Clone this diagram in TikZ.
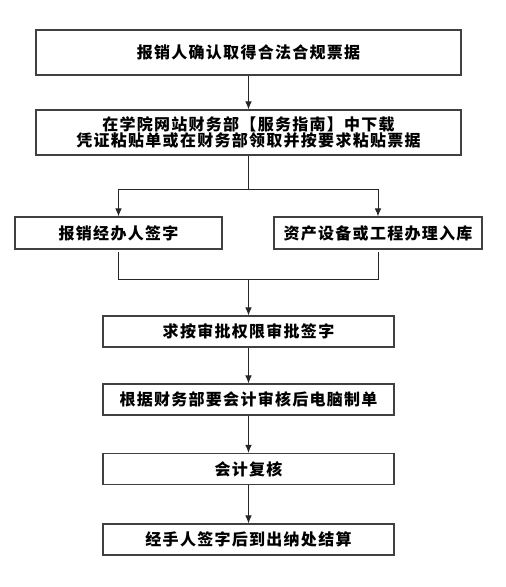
\documentclass[tikz,border=0pt]{standalone}
\usepackage{fontspec}
\usepackage{tikz}
\usetikzlibrary{arrows.meta}
\newfontfamily\cjk[LetterSpace=8]{Noto Sans CJK SC}

\begin{document}
\begin{tikzpicture}[x=1pt, y=-1pt,
  stepbox/.style={draw=black!75, line width=1.1pt, inner sep=0pt, align=center,
    font=\cjk\bfseries\fontsize{16pt}{15.5pt}\selectfont},
  flow/.style={-{Latex[length=8pt, width=6.5pt]}, line width=0.9pt, black!85}]

\useasboundingbox (0,0) rectangle (506,587);

\node[stepbox, minimum width=425pt, minimum height=45pt] (receipt) at (248.5, 52.5) {报销人确认取得合法合规票据};
\node[stepbox, minimum width=425pt, minimum height=45pt] (paste) at (248.5, 132.5) {在学院网站财务部【服务指南】中下载\\凭证粘贴单或在财务部领取并按要求粘贴票据};
\node[stepbox, minimum width=207pt, minimum height=32pt] (handler) at (118.5, 233) {报销经办人签字};
\node[stepbox, minimum width=208pt, minimum height=32pt] (stock) at (378, 233) {资产设备或工程办理入库};
\node[stepbox, minimum width=291pt, minimum height=31pt] (approve) at (248.5, 331.5) {求按审批权限审批签字};
\node[stepbox, minimum width=291pt, minimum height=31pt] (voucher) at (248.5, 399.5) {根据财务部要会计审核后电脑制单};
\node[stepbox, minimum width=291pt, minimum height=31pt] (review) at (248.5, 469) {会计复核};
\node[stepbox, minimum width=291pt, minimum height=31pt] (cashier) at (248.5, 539.5) {经手人签字后到出纳处结算};

\coordinate (split) at (248.5, 189);
\coordinate (merge) at (248.5, 279);

%Connectors
\draw[flow] (receipt) -- (paste);
\draw[line width=0.9pt, black!85] (paste) -- (split);
\draw[flow] (split) -| (handler);
\draw[flow] (split) -| (stock);
\draw[line width=0.9pt, black!85, shorten <=2pt] (handler) |- (merge);
\draw[line width=0.9pt, black!85, shorten <=2pt] (stock) |- (merge);
\draw[flow] (merge) -- (approve);
\draw[flow] (approve) -- (voucher);
\draw[flow] (voucher) -- (review);
\draw[flow] (review) -- (cashier);

\end{tikzpicture}
\end{document}
